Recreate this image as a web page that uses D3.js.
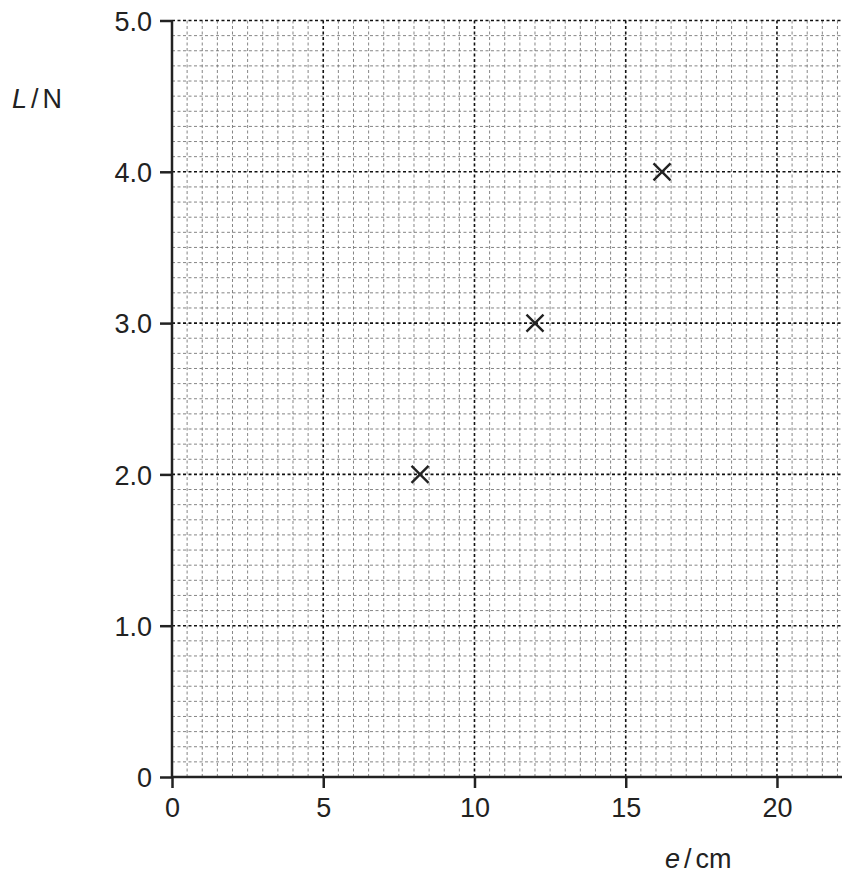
<!DOCTYPE html>
<html><head><meta charset="utf-8">
<script src="https://cdn.jsdelivr.net/npm/d3@7"></script>
<style>body{margin:0;background:#fff}svg{display:block}</style>
</head><body>
<svg id="c" width="844" height="877"></svg>
<script>
const xTicks = [0, 5, 10, 15, 20];
const yTicks = [0, 1, 2, 3, 4, 5];
const yTickLabels = ["0", "1.0", "2.0", "3.0", "4.0", "5.0"];
const eValues = [8.2, 12.0, 16.2];
const LValues = [2.0, 3.0, 4.0];

const svg = d3.select("#c");
const x = d3.scaleLinear().domain([0, 22.15]).range([172, 842]);
const y = d3.scaleLinear().domain([0, 5]).range([777, 20.5]);
const font = "Liberation Sans, Arial, sans-serif";
const fs = 27;

const g = svg.append("g");
const vx = d3.range(0.5, 22.01, 0.5);
g.selectAll("line.v").data(vx).join("line")
  .attr("x1", d => x(d)).attr("x2", d => x(d))
  .attr("y1", y(5)).attr("y2", y(0))
  .attr("stroke", d => Math.abs(d % 5) < 1e-6 ? "#111" : "#777")
  .attr("stroke-width", d => Math.abs(d % 5) < 1e-6 ? 1.6 : 0.9)
  .attr("stroke-dasharray", "3,2.5");
const hy = d3.range(1, 51).map(i => i / 10);
g.selectAll("line.h").data(hy).join("line")
  .attr("x1", x(0)).attr("x2", 842)
  .attr("y1", d => y(d)).attr("y2", d => y(d))
  .attr("stroke", d => Math.abs(Math.round(d) - d) < 1e-6 ? "#111" : "#777")
  .attr("stroke-width", d => Math.abs(Math.round(d) - d) < 1e-6 ? 1.6 : 0.9)
  .attr("stroke-dasharray", "3,2.5");

const xAxis = d3.axisBottom(x).tickValues(xTicks).tickSize(11).tickPadding(10).tickFormat(d3.format("d"));
const xg = svg.append("g").attr("transform", `translate(0,${y(0)})`).call(xAxis);
xg.select(".domain").attr("d", `M${x(0)},0H842`).attr("stroke", "#222").attr("stroke-width", 2.5);
xg.selectAll(".tick line").attr("stroke", "#222").attr("stroke-width", 2.5);
xg.selectAll(".tick text").attr("font-family", font).attr("font-size", fs).attr("fill", "#222");

const yAxis = d3.axisLeft(y).tickValues(yTicks).tickSize(12).tickPadding(8).tickFormat((d, i) => yTickLabels[i]);
const yg = svg.append("g").attr("transform", `translate(${x(0)},0)`).call(yAxis);
yg.select(".domain").attr("d", `M0,${y(5)}V${y(0)}`).attr("stroke", "#222").attr("stroke-width", 2.5);
yg.selectAll(".tick line").attr("stroke", "#222").attr("stroke-width", 2.5);
yg.selectAll(".tick text").attr("font-family", font).attr("font-size", fs).attr("fill", "#222").attr("dy", "0.36em");

const s = 8.5;
svg.append("g").selectAll("path").data(eValues.map((e, i) => [e, LValues[i]])).join("path")
  .attr("d", d => `M${x(d[0]) - s},${y(d[1]) - s}L${x(d[0]) + s},${y(d[1]) + s}M${x(d[0]) - s},${y(d[1]) + s}L${x(d[0]) + s},${y(d[1]) - s}`)
  .attr("stroke", "#222").attr("stroke-width", 2.4).attr("fill", "none");

const yl = svg.append("text").attr("x", 12).attr("y", 108).attr("font-family", font).attr("font-size", fs).attr("fill", "#222");
yl.append("tspan").attr("font-style", "italic").text("L");
yl.append("tspan").attr("dx", 4).text("/");
yl.append("tspan").attr("dx", 4).text("N");
const xl = svg.append("text").attr("x", 665).attr("y", 868).attr("font-family", font).attr("font-size", fs).attr("fill", "#222");
xl.append("tspan").attr("font-style", "italic").text("e");
xl.append("tspan").attr("dx", 4).text("/");
xl.append("tspan").attr("dx", 4).text("cm");
</script>
</body></html>
